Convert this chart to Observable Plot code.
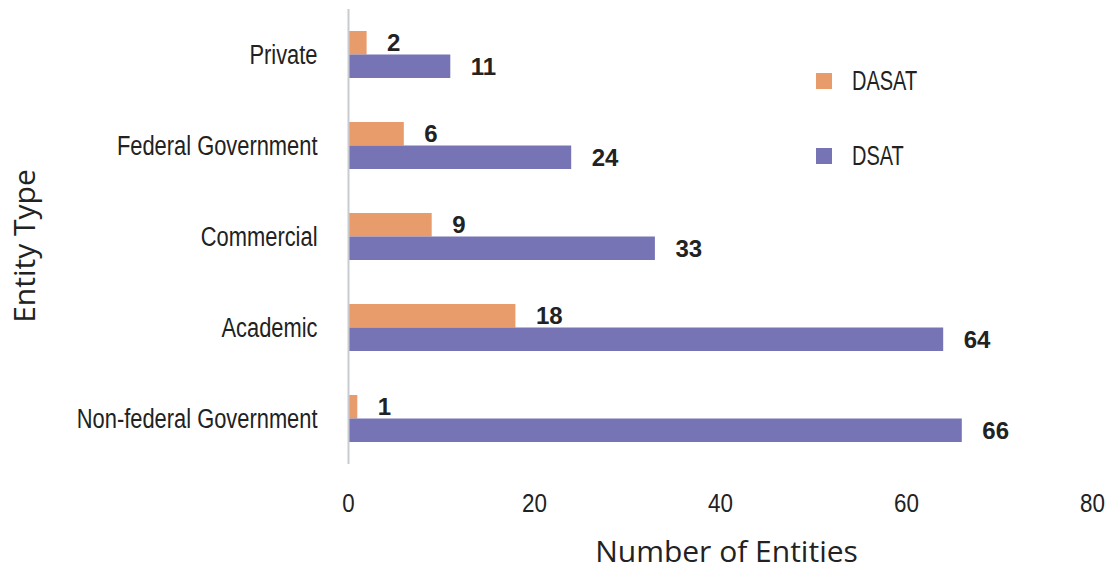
<!DOCTYPE html>
<html>
<head>
<meta charset="utf-8">
<script src="https://cdn.jsdelivr.net/npm/d3@7"></script>
<script src="https://cdn.jsdelivr.net/npm/@observablehq/plot@0.6"></script>
<style>
  html, body { margin: 0; padding: 0; background: #fff; }
  #wrap { position: relative; width: 1115px; height: 572px; }
  #legend { position: absolute; left: 816px; top: 66px; color: #222; font-size: 27px; font-family: "Liberation Sans", Arial, sans-serif; }
  .item { display: flex; align-items: center; height: 30px; margin-bottom: 45px; }
  .sw { width: 16px; height: 16px; margin-right: 20px; flex: none; }
  .lab { display: inline-block; transform: scaleX(0.74); transform-origin: left center; }
</style>
</head>
<body>
<div id="wrap"></div>
<script>
const categories = ["Private", "Federal Government", "Commercial", "Academic", "Non-federal Government"];
const dasat = [2, 6, 9, 18, 1];
const dsat = [11, 24, 33, 64, 66];
const series = ["DASAT", "DSAT"];
const colors = ["#E89B6B", "#7774B5"];
const xTicks = [0, 20, 40, 60, 80];

const dA = categories.map((c, i) => ({category: c, series: "DASAT", value: dasat[i]}));
const dS = categories.map((c, i) => ({category: c, series: "DSAT", value: dsat[i]}));

const baseFont = '"Liberation Sans", Arial, sans-serif';
const titleFont = '"Open Sans", "Noto Sans", sans-serif';

const chart = Plot.plot({
  width: 1115,
  height: 572,
  marginLeft: 348,
  marginRight: 23,
  marginTop: 9,
  marginBottom: 108,
  style: {fontFamily: baseFont, color: "#222", background: "#fff"},
  x: {domain: [0, 80], ticks: xTicks},
  y: {domain: categories, padding: 0},
  color: {domain: series, range: colors},
  marks: [
    Plot.barX(dA, {y: "category", x: "value", fill: "series", insetTop: 22, insetBottom: 45.5}),
    Plot.barX(dS, {y: "category", x: "value", fill: "series", insetTop: 45.5, insetBottom: 22}),
    Plot.text(dA, {y: "category", x: "value", text: d => String(d.value), textAnchor: "start", dx: 20, dy: -12, fontWeight: "bold", fontSize: 24, fill: "#222", ariaLabel: "value-label"}),
    Plot.text(dS, {y: "category", x: "value", text: d => String(d.value), textAnchor: "start", dx: 20, dy: 12, fontWeight: "bold", fontSize: 24, fill: "#222", ariaLabel: "value-label"}),
    Plot.ruleX([0], {stroke: "#C8CCD0", strokeWidth: 2}),
    Plot.axisY({tickSize: 0, tickPadding: 31, fontSize: 27, label: null}),
    Plot.axisX(xTicks, {tickSize: 0, tickPadding: 29, fontSize: 26, label: null}),
    Plot.text(["Number of Entities"], {frameAnchor: "bottom", lineAnchor: "middle", textAnchor: "middle", dy: 88, dx: 6, fontSize: 30, fontFamily: titleFont, fill: "#222"}),
    Plot.text(["Entity Type"], {frameAnchor: "left", lineAnchor: "middle", textAnchor: "middle", dx: -323, dy: 9, rotate: -90, fontSize: 30, fontFamily: titleFont, fill: "#222"})
  ]
});

const wrap = document.getElementById("wrap");
wrap.appendChild(chart);

// narrow the condensed-style texts horizontally while keeping them as real text
function squeeze(selector, factor) {
  chart.querySelectorAll(selector).forEach(t => {
    const w = t.getComputedTextLength();
    if (w > 0) {
      t.setAttribute("textLength", (w * factor).toFixed(1));
      t.setAttribute("lengthAdjust", "spacingAndGlyphs");
    }
  });
}
squeeze('g[aria-label="y-axis tick label"] text', 0.81);
squeeze('g[aria-label="x-axis tick label"] text', 0.86);
squeeze('g[aria-label="value-label"] text', 0.87);

const legend = document.createElement("div");
legend.id = "legend";
series.forEach((s, i) => {
  const item = document.createElement("div");
  item.className = "item";
  const sw = document.createElement("div");
  sw.className = "sw";
  sw.style.background = colors[i];
  const lab = document.createElement("span");
  lab.className = "lab";
  lab.textContent = s;
  item.appendChild(sw);
  item.appendChild(lab);
  legend.appendChild(item);
});
wrap.appendChild(legend);
</script>
</body>
</html>
